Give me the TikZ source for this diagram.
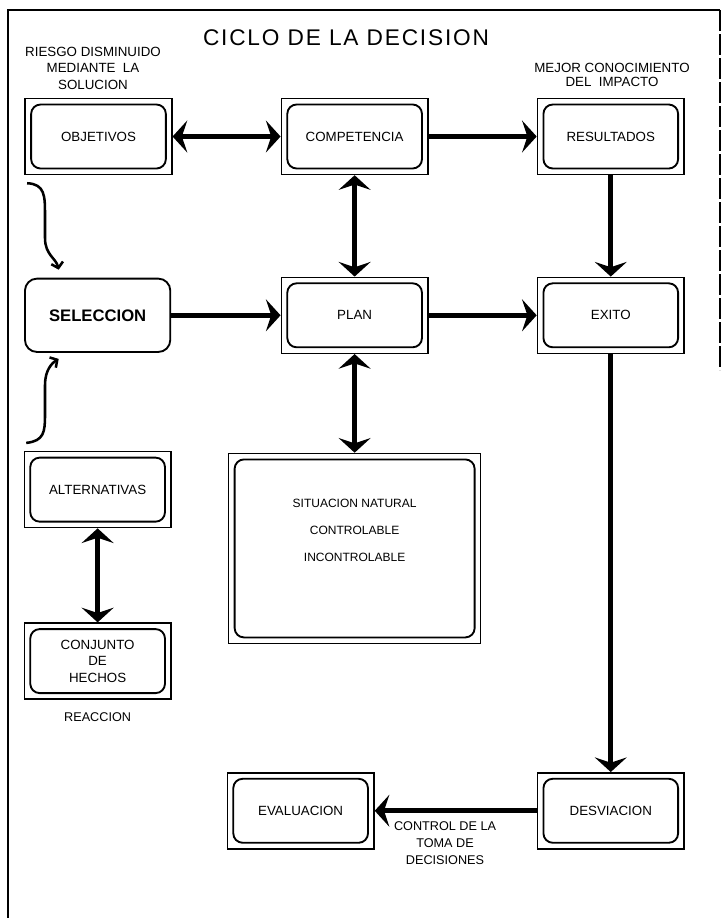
\documentclass[tikz,border=0pt]{standalone}
\usepackage{fontspec}
\setmainfont{Liberation Sans}
\newfontfamily\titlefont[LetterSpace=8]{Liberation Sans}
\usepackage{tikz}
\usetikzlibrary{arrows.meta, positioning}

\begin{document}
\begin{tikzpicture}[
    x=0.75pt, y=-0.75pt,
    >={Stealth[length=11pt, width=24pt, inset=4pt]},
    dblbox/.style={rectangle, draw, line width=1.1pt, minimum width=110pt, minimum height=57pt, align=center, font=\fontsize{10}{12.4}\selectfont,
        path picture={\draw[line width=1.4pt, rounded corners=7pt] ([shift={(4.5pt,-4.5pt)}]path picture bounding box.north west) rectangle ([shift={(-4.5pt,4.5pt)}]path picture bounding box.south east);}},
    selbox/.style={rectangle, draw, line width=1.4pt, rounded corners=9pt, minimum width=109pt, minimum height=55pt, font=\fontsize{12.5}{14}\selectfont\bfseries},
    note/.style={align=center, font=\fontsize{10}{12.4}\selectfont},
    arrow/.style={->, line width=3.5pt},
    curvy/.style={-{Straight Barb[length=4pt, width=9pt]}, line width=1.9pt},
]
\useasboundingbox (0,0) rectangle (722,918);

% frame
\draw[line width=1.2pt] (8,918) -- (8,10) -- (720,10);
\draw[line width=1.2pt, dash pattern=on 16pt off 2pt] (720,10) -- (720,370);

\node[font=\titlefont\fontsize{17}{20}\selectfont] (title) at (346,38) {CICLO DE LA DECISION};

% top row
\node[dblbox] (obj) at (98.5,136.5) {OBJETIVOS};
\node[dblbox, right=81pt of obj] (comp) {COMPETENCIA};
\node[dblbox, right=81pt of comp] (res) {RESULTADOS};

% middle row
\node[dblbox, below=76pt of comp] (plan) {PLAN};
\node[dblbox, below=76pt of res] (exito) {EXITO};
\node[selbox, left=82pt of plan] (sel) {SELECCION};

% left column
\node[dblbox, below=73.5pt of sel] (alt) {ALTERNATIVAS};
\node[dblbox, below=70.5pt of alt] (conj) {CONJUNTO\\DE\\HECHOS};

\node[dblbox, minimum width=189pt, minimum height=142.5pt, below=74pt of plan] (sit) {};
\node[align=center, font=\fontsize{9}{11}\selectfont] (sittxt) at ([yshift=13.5pt]sit.center) {SITUACION NATURAL\\[9.5pt]CONTROLABLE\\[9.5pt]INCONTROLABLE};

% bottom row
\node[dblbox, below=313.5pt of exito] (desv) {DESVIACION};
\node[dblbox, left=121.5pt of desv] (eval) {EVALUACION};

% notes
\node[note] (riesgo) at (93,68) {RIESGO DISMINUIDO\\MEDIANTE\ \ LA\\SOLUCION};
\node[note, font=\fontsize{10}{10.6}\selectfont] (mejor) at (612,75) {MEJOR CONOCIMIENTO\\DEL\ \ IMPACTO};
\node[note, font=\fontsize{9.5}{11}\selectfont, below=6pt of conj] (reac) {REACCION};

% connectors
\draw[arrow, <->] (obj) -- (comp);
\draw[arrow] (comp) -- (res);
\draw[arrow, <->] (comp) -- (plan);
\draw[arrow] (sel) -- (plan);
\draw[arrow] (plan) -- (exito);
\draw[arrow] (res) -- (exito);
\draw[arrow, <->] (plan) -- (sit);
\draw[arrow, <->] (alt) -- (conj);
\draw[arrow] (exito) -- (desv);
\draw[arrow] (desv) -- node[note, below=3pt, xshift=-8pt, font=\fontsize{9.5}{12.7}\selectfont] {CONTROL DE LA\\TOMA DE\\DECISIONES} (eval);

% curved arrows into SELECCION
\coordinate (c1) at ([shift={(2pt,-6pt)}]obj.south west);
\coordinate (c2) at ([shift={(2pt,6pt)}]alt.north west);
\draw[curvy] (c1) .. controls (45,184) and (45,196) .. (45,215) -- (45,238)
    .. controls (45,255) and (56,258) .. ([shift={(26pt,6pt)}]sel.north west);
\draw[curvy] (c2) .. controls (44,441) and (45,432) .. (45,415) -- (45,385)
    .. controls (45,370) and (52,363) .. ([shift={(26pt,-4.5pt)}]sel.south west);

\end{tikzpicture}
\end{document}
